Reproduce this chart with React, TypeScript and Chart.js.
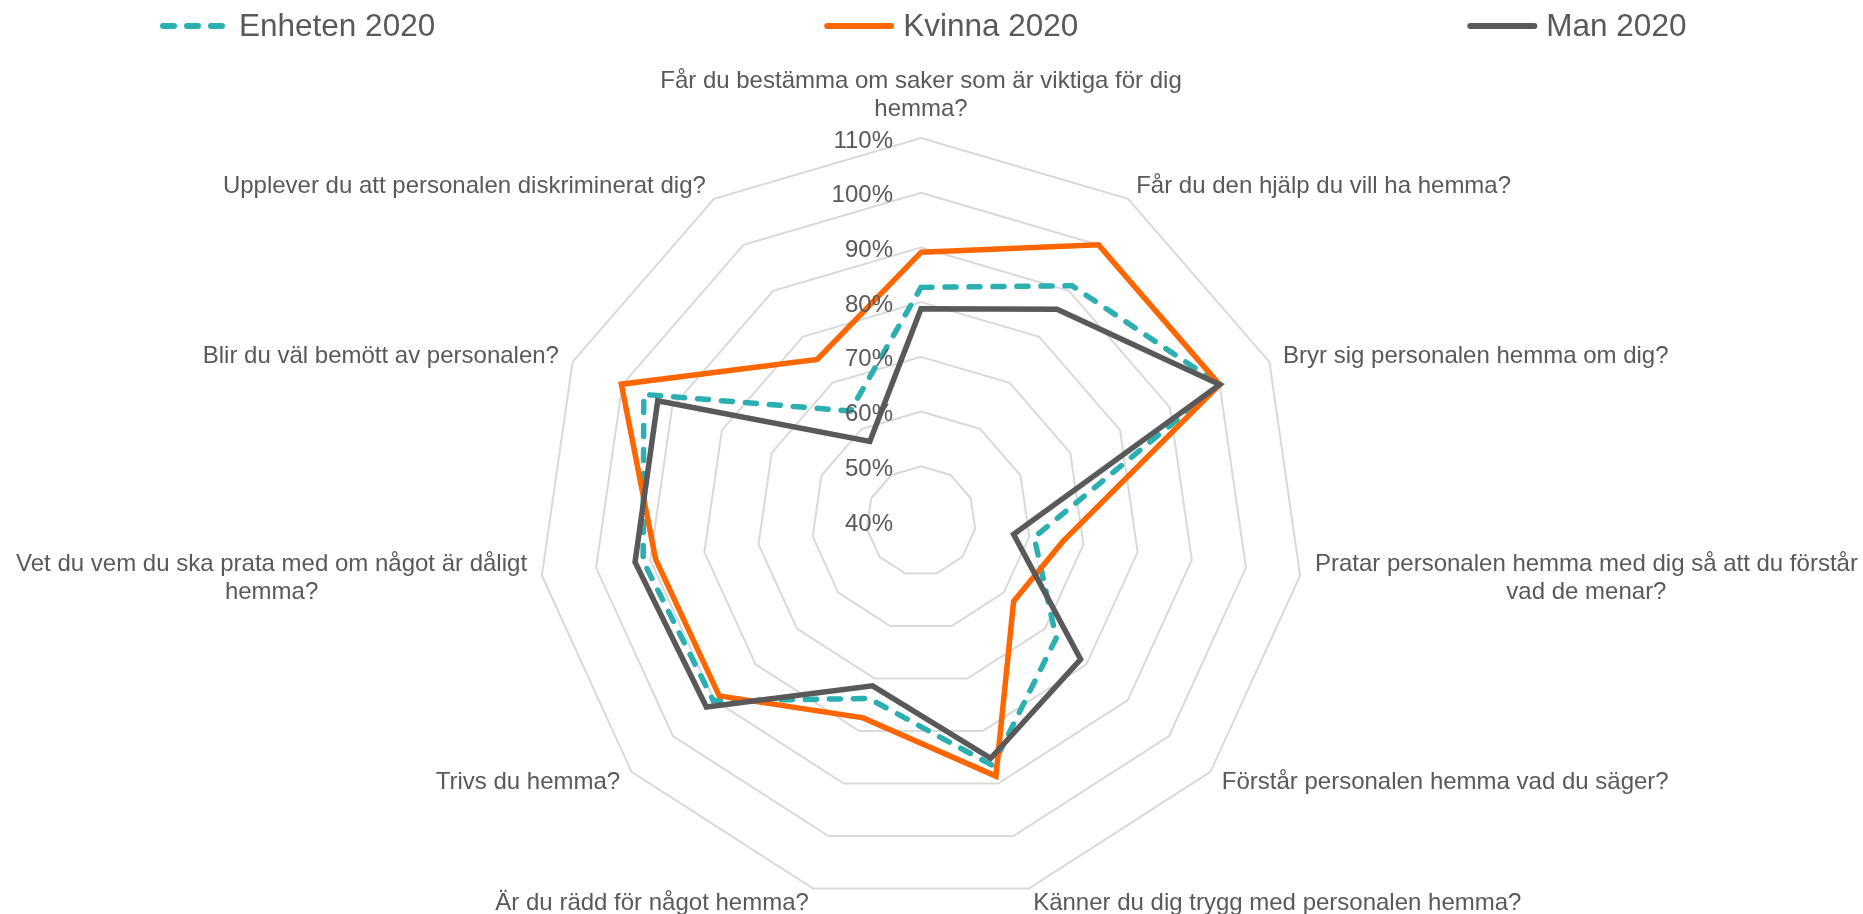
import React, { useEffect, useRef } from 'react';
import { Chart, registerables } from 'chart.js';

Chart.register(...registerables);

// ---- Data ----
const categories: string[][] = [
  ['Får du bestämma om saker som är viktiga för dig', 'hemma?'],
  ['Får du den hjälp du vill ha hemma?'],
  ['Bryr sig personalen hemma om dig?'],
  ['Pratar personalen hemma med dig så att du förstår', 'vad de menar?'],
  ['Förstår personalen hemma vad du säger?'],
  ['Känner du dig trygg med personalen hemma?'],
  ['Är du rädd för något hemma?'],
  ['Trivs du hemma?'],
  ['Vet du vem du ska prata med om något är dåligt', 'hemma?'],
  ['Blir du väl bemött av personalen?'],
  ['Upplever du att personalen diskriminerat dig?'],
];

const seriesNames = ['Enheten 2020', 'Kvinna 2020', 'Man 2020'];
const enheten = [82.7, 91.1, 100, 60.9, 72.7, 86.6, 73.8, 90.2, 91.3, 95.7, 63.9];
const kvinna = [89.1, 100, 100, 66.2, 62.4, 88.6, 77.5, 88.8, 89.0, 100.2, 75.1];
const man = [78.8, 86.0, 100, 57.1, 78.6, 85.2, 71.4, 91.9, 92.8, 92.9, 57.3];

const axisMin = 40;
const axisMax = 110;
const axisStep = 10;
const tickSuffix = '%';

// ---- Styles ----
const FONT = "'Liberation Sans', Arial, sans-serif";
const TEXT = '#595959';
const TEAL = '#2BAFB0';
const ORANGE = '#FF6600';
const DARK = '#595959';
const GRID = '#D9D9D9';

const overlayPlugin = {
  id: 'overlay',
  afterDatasetsDraw(chart: any) {
    const ctx: CanvasRenderingContext2D = chart.ctx;
    const r = chart.scales.r;
    ctx.save();
    ctx.fillStyle = TEXT;
    ctx.font = `24px ${FONT}`;
    // tick labels (right aligned, left of the vertical axis)
    ctx.textAlign = 'right';
    ctx.textBaseline = 'alphabetic';
    r.ticks.forEach((t: any) => {
      const d = r.getDistanceFromCenterForValue(t.value);
      ctx.fillText(`${t.value}${tickSuffix}`, r.xCenter - 28, r.yCenter - d + 9.5);
    });
    // point labels
    const lh = 28;
    categories.forEach((lines, i) => {
      const p = r.getPointPosition(i, r.drawingArea + 15);
      const a = r.getIndexAngle(i);
      const s = Math.sin(a);
      const c = Math.cos(a);
      const widths = lines.map((l) => ctx.measureText(l).width);
      const bw = Math.max(...widths);
      let left: number;
      if (Math.abs(s) < 0.05) left = p.x - bw / 2;
      else if (s > 0) left = p.x;
      else left = p.x - bw;
      const bh = lines.length * lh;
      let cy: number;
      if (c > 0.99) cy = p.y - bh / 2;
      else if (c < -0.99) cy = p.y + bh / 2;
      else cy = p.y;
      ctx.textAlign = 'center';
      lines.forEach((l, j) => {
        ctx.fillText(l, left + bw / 2, cy + (j - (lines.length - 1) / 2) * lh + 7);
      });
    });
    ctx.restore();
  },
  afterDraw(chart: any) {
    const ctx: CanvasRenderingContext2D = chart.ctx;
    ctx.save();
    ctx.font = `31.5px ${FONT}`;
    ctx.textAlign = 'left';
    ctx.textBaseline = 'alphabetic';
    const lineLen = 70;
    const gapLT = 9;
    const itemGap = 389;
    const y = 26;
    let x = 160;
    chart.data.datasets.forEach((ds: any) => {
      ctx.strokeStyle = ds.borderColor;
      ctx.lineWidth = 6;
      ctx.lineCap = 'round';
      ctx.setLineDash(ds.borderDash || []);
      ctx.beginPath();
      ctx.moveTo(x + 3, y);
      ctx.lineTo(x + lineLen - 3, y);
      ctx.stroke();
      ctx.setLineDash([]);
      ctx.fillStyle = TEXT;
      ctx.fillText(ds.label, x + lineLen + gapLT, 36);
      x += lineLen + gapLT + ctx.measureText(ds.label).width + itemGap;
    });
    ctx.restore();
  },
};

export default function App() {
  const ref = useRef<HTMLCanvasElement>(null);
  useEffect(() => {
    if (!ref.current) return;
    const mk = (label: string, data: number[], color: string, dash: number[] | undefined, order: number) => ({
      label,
      data,
      borderColor: color,
      backgroundColor: color,
      borderWidth: 5.5,
      borderDash: dash,
      borderCapStyle: dash ? 'round' : 'butt',
      borderJoinStyle: 'miter',
      fill: false,
      pointRadius: 0,
      pointHoverRadius: 0,
      tension: 0,
      order,
    });
    const chart = new Chart(ref.current, {
      type: 'radar',
      data: {
        labels: categories.map((l) => l.join(' ')),
        datasets: [
          mk(seriesNames[0], enheten, TEAL, [11, 13], 3),
          mk(seriesNames[1], kvinna, ORANGE, undefined, 2),
          mk(seriesNames[2], man, DARK, undefined, 1),
        ] as any,
      },
      options: {
        responsive: false,
        animation: false,
        events: [],
        layout: { padding: { top: 138, bottom: 10, left: 0, right: 20 } },
        plugins: {
          legend: { display: false },
          tooltip: { enabled: false },
          title: { display: false },
        },
        scales: {
          r: {
            min: axisMin,
            max: axisMax,
            ticks: { stepSize: axisStep, display: false },
            pointLabels: { display: false },
            angleLines: { display: false },
            grid: { color: GRID, lineWidth: 2 },
          },
        },
      },
      plugins: [overlayPlugin],
    } as any);
    return () => chart.destroy();
  }, []);
  return (
    <div style={{ position: 'absolute', left: 0, top: 0, width: 1863, height: 914, background: '#fff', overflow: 'hidden' }}>
      <canvas ref={ref} width={1863} height={914} style={{ display: 'block' }} />
    </div>
  );
}
